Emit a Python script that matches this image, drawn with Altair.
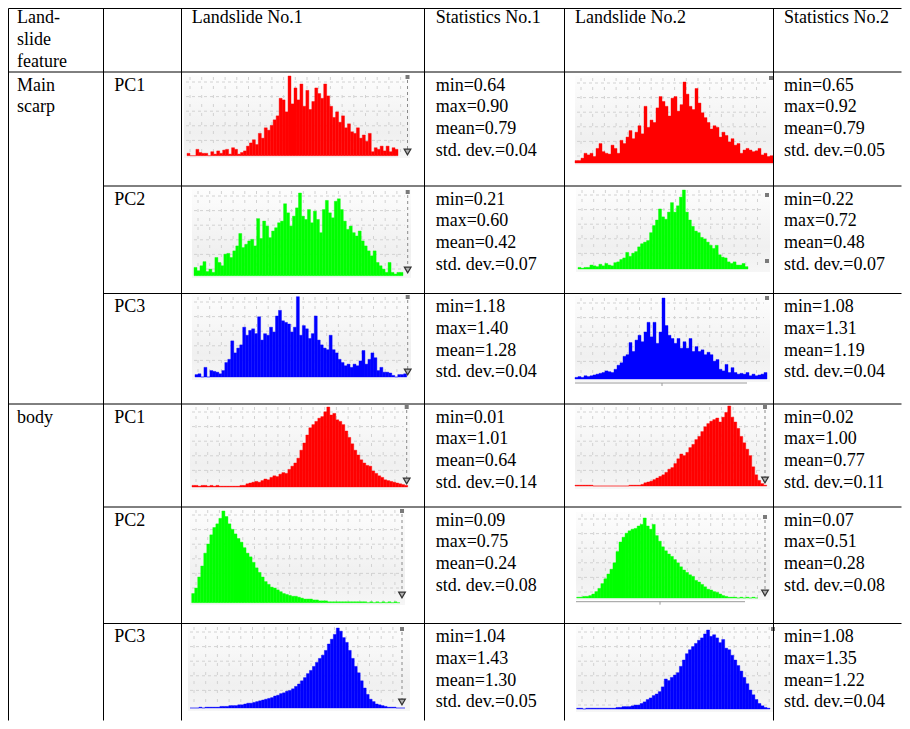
import altair as alt
import pandas as pd
import numpy as np

# ---------------- data ----------------
col_headers = ["Landslide No.1", "Statistics No.1", "Landslide No.2", "Statistics No.2"]
feature_header = ["Land-", "slide", "feature"]
features = [["Main", "scarp"], ["body"]]
components = ["PC1", "PC2", "PC3", "PC1", "PC2", "PC3"]

# statistics per row (Main scarp PC1..PC3, body PC1..PC3)
stat_min_1 = ["0.64", "0.21", "1.18", "0.01", "0.09", "1.04"]
stat_max_1 = ["0.90", "0.60", "1.40", "1.01", "0.75", "1.43"]
stat_mean_1 = ["0.79", "0.42", "1.28", "0.64", "0.24", "1.30"]
stat_std_1 = ["0.04", "0.07", "0.04", "0.14", "0.08", "0.05"]
stat_min_2 = ["0.65", "0.22", "1.08", "0.02", "0.07", "1.08"]
stat_max_2 = ["0.92", "0.72", "1.31", "1.00", "0.51", "1.35"]
stat_mean_2 = ["0.79", "0.48", "1.19", "0.77", "0.28", "1.22"]
stat_std_2 = ["0.05", "0.07", "0.04", "0.11", "0.08", "0.04"]

# histogram bar heights (percent of panel peak)
hist_ms_pc1_l1 = [3, 0, 0, 8, 4, 3, 3, 0, 5, 2, 6, 3, 7, 8, 2, 10, 8, 2, 4, 6,
                  12, 16, 20, 14, 28, 22, 35, 32, 38, 45, 50, 72, 70, 55, 100, 65, 85, 70, 90, 62,
                  82, 58, 68, 85, 78, 72, 90, 75, 62, 48, 55, 42, 50, 35, 40, 30, 28, 35, 22, 26,
                  18, 28, 5, 10, 8, 12, 6, 12, 5, 10, 8]
hist_ms_pc1_l2 = [3, 3, 6, 12, 10, 12, 8, 18, 24, 14, 12, 11, 22, 18, 12, 28, 24, 32, 40, 30,
                  38, 46, 36, 70, 44, 53, 50, 68, 82, 76, 70, 58, 80, 82, 64, 72, 100, 85, 70, 66,
                  92, 74, 62, 56, 50, 42, 46, 44, 32, 38, 34, 26, 30, 22, 24, 12, 16, 18, 16, 14,
                  15, 18, 10, 12, 8, 9]
hist_ms_pc2_l1 = [10, 6, 12, 17, 5, 8, 4, 22, 16, 12, 26, 27, 22, 30, 36, 51, 34, 38, 42, 44,
                  36, 69, 45, 66, 60, 46, 54, 58, 64, 66, 87, 76, 60, 72, 82, 100, 72, 68, 80, 64,
                  78, 68, 52, 80, 91, 76, 70, 90, 93, 80, 66, 56, 60, 52, 48, 54, 42, 36, 30, 24,
                  30, 16, 12, 8, 4, 16, 4, 2, 4, 4]
hist_ms_pc2_l2 = [2, 1, 2, 2, 5, 4, 3, 6, 4, 7, 5, 4, 8, 9, 12, 14, 21, 16, 20, 22,
                  28, 32, 34, 36, 46, 55, 62, 76, 66, 63, 72, 84, 72, 80, 91, 100, 72, 62, 54, 48,
                  46, 40, 38, 34, 30, 26, 30, 18, 15, 14, 9, 7, 9, 5, 5, 7, 3]
hist_ms_pc3_l1 = [3, 4, 0, 12, 0, 8, 7, 6, 4, 8, 18, 22, 45, 30, 36, 40, 62, 52, 58, 60,
                  54, 75, 46, 54, 52, 62, 56, 76, 83, 70, 68, 66, 56, 62, 100, 52, 64, 60, 48, 54,
                  76, 46, 40, 36, 34, 52, 34, 30, 22, 18, 14, 16, 12, 16, 14, 20, 33, 16, 22, 30,
                  24, 8, 12, 6, 6, 5, 2, 0, 3, 3, 4]
hist_ms_pc3_l2 = [2, 3, 2, 4, 3, 4, 5, 6, 7, 8, 10, 9, 8, 12, 17, 20, 28, 30, 45, 34,
                  48, 54, 46, 58, 70, 52, 70, 44, 58, 100, 66, 54, 50, 44, 50, 38, 46, 38, 50, 34,
                  40, 34, 36, 30, 33, 30, 22, 24, 12, 10, 18, 8, 14, 8, 6, 7, 6, 8, 4, 6,
                  4, 5, 6, 8]
hist_body_pc1_l1 = [2, 2, 1, 2, 2, 1, 2, 1, 2, 1, 1, 1, 1, 1, 1, 1, 2, 2, 4, 5,
                    6, 7, 6, 8, 10, 9, 12, 14, 13, 16, 18, 17, 22, 26, 30, 36, 46, 55, 65, 74,
                    78, 82, 86, 88, 94, 100, 90, 92, 84, 82, 78, 70, 62, 54, 46, 40, 34, 30, 27, 26,
                    20, 17, 14, 12, 9, 8, 7, 6, 5, 4, 3, 2]
hist_body_pc1_l2 = [1, 1, 1, 1, 1, 1, 0, 0, 0, 0, 0, 0, 0, 0, 0, 0, 0, 0, 1, 1,
                    1, 1, 2, 4, 5, 6, 8, 10, 12, 14, 17, 21, 23, 28, 34, 40, 38, 42, 48, 52,
                    58, 62, 68, 74, 78, 81, 83, 85, 80, 86, 92, 100, 86, 80, 72, 62, 54, 46, 38, 24,
                    14, 7, 3, 1]
hist_body_pc2_l1 = [10, 16, 28, 40, 54, 64, 74, 82, 86, 92, 100, 94, 86, 80, 75, 70, 66, 60, 54, 50,
                    44, 38, 33, 28, 23, 20, 17, 16, 14, 12, 10, 9, 8, 7, 7, 6, 5, 4, 4, 4,
                    3, 3, 2, 2, 2, 1, 1, 1, 1, 1, 1, 1, 1, 1, 1, 1, 1, 1, 0, 1,
                    0, 1, 0, 1, 0, 1, 0, 1, 0]
hist_body_pc2_l2 = [1, 1, 2, 2, 3, 5, 8, 12, 18, 24, 30, 36, 44, 58, 70, 76, 81, 84, 86, 87,
                    90, 92, 100, 90, 86, 92, 78, 71, 64, 59, 55, 52, 48, 44, 39, 35, 32, 29, 27, 22,
                    20, 17, 14, 11, 10, 8, 7, 5, 3, 2, 1, 1, 1, 0, 1, 0, 1, 0, 1, 0]
hist_body_pc3_l1 = [0, 0, 0, 1, 0, 1, 1, 1, 1, 1, 2, 2, 2, 3, 3, 3, 4, 4, 5, 6,
                    6, 7, 8, 9, 10, 11, 12, 13, 15, 16, 18, 19, 21, 22, 24, 27, 30, 34, 38, 43,
                    47, 52, 57, 62, 66, 72, 80, 86, 92, 100, 96, 88, 82, 72, 62, 52, 44, 34, 25, 17,
                    11, 8, 5, 4, 3, 2, 1, 1, 1, 0, 0, 0]
hist_body_pc3_l2 = [1, 1, 0, 1, 1, 1, 1, 1, 1, 1, 1, 1, 1, 2, 2, 3, 3, 3, 4, 5,
                    5, 7, 9, 12, 14, 17, 19, 22, 28, 38, 36, 40, 43, 46, 54, 62, 70, 75, 79, 83,
                    87, 90, 95, 100, 92, 94, 90, 84, 88, 77, 75, 68, 62, 55, 48, 40, 32, 24, 18, 12,
                    7, 4, 2, 1]

hists = [hist_ms_pc1_l1, hist_ms_pc1_l2, hist_ms_pc2_l1, hist_ms_pc2_l2,
         hist_ms_pc3_l1, hist_ms_pc3_l2, hist_body_pc1_l1, hist_body_pc1_l2,
         hist_body_pc2_l1, hist_body_pc2_l2, hist_body_pc3_l1, hist_body_pc3_l2]
hist_colors = ["#ff0000", "#ff0000", "#00ff00", "#00ff00", "#0000ff", "#0000ff",
               "#ff0000", "#ff0000", "#00ff00", "#00ff00", "#0000ff", "#0000ff"]

# ---------------- layout (reference pixel coordinates) ----------------
# canvas fits inside the 910x729 window with its 8px page margin
W, H, OFF = 894, 713, 8
FONT = "Liberation Serif"
FS = 18
LH = 21.7

col_x = [5, 103.5, 181.5, 424.5, 564.5, 773.5]
row_y = [5, 72, 186, 293.5, 404, 507, 623.5]

# panel: bars x0, x1, baseline, peak ; background box ; marker x, square y, triangle y ; axis
panels = [
    dict(b=(187, 398, 155.7, 76), bg=(184, 410, 75, 158), mk=(407.5, 77, 152)),
    dict(b=(575, 773, 163, 82), bg=(575, 773, 76, 165), mk=(771, 78, None)),
    dict(b=(194, 403, 275.7, 193), bg=(192, 411, 189, 278), mk=(407.7, 192, 270)),
    dict(b=(578, 748, 269, 190), bg=(576, 770, 188, 272), mk=(767, 195, None), sq2=261),
    dict(b=(195, 406.7, 377, 296.7), bg=(192, 411, 295, 380), mk=(407.7, 297, 372)),
    dict(b=(575, 767, 379, 298), bg=(575, 770, 296, 382), mk=(767, 298, None), ax=(575, 747, 383, 662)),
    dict(b=(192, 407.7, 487, 407), bg=(190, 410, 405, 490), mk=(406.7, 407, 481)),
    dict(b=(575, 766.7, 486, 406), bg=(575, 770, 405, 489), mk=(765, 407, 480)),
    dict(b=(191.7, 400, 602.7, 511), bg=(190, 405, 508, 605), mk=(402, 511, 595)),
    dict(b=(576.7, 758, 598, 518), bg=(576, 770, 512, 600), mk=(765, 517, 593), ax=(576, 745, 601.7, 660)),
    dict(b=(190, 405, 708, 628), bg=(188, 410, 625, 711), mk=(402, 629, 702)),
    dict(b=(576.7, 770, 709, 630), bg=(576, 773, 625, 712), mk=(773, 629, None)),
]

PX = alt.Scale(domain=[OFF, OFF + W], range=[0, W], nice=False, zero=False)
PY = alt.Scale(domain=[OFF, OFF + H], range=[0, H], nice=False, zero=False)


def page_enc(with2=True):
    enc = dict(x=alt.X("x:Q", scale=PX, axis=None), y=alt.Y("y:Q", scale=PY, axis=None))
    if with2:
        enc["x2"] = alt.X2("x2:Q")
        enc["y2"] = alt.Y2("y2:Q")
    return enc


def clip_df(rows):
    df = pd.DataFrame(rows)
    for c in ["x", "x2"]:
        if c in df:
            df[c] = df[c].clip(lower=OFF + 0.5, upper=OFF + W - 0.5)
    for c in ["y", "y2"]:
        if c in df:
            df[c] = df[c].clip(lower=OFF + 0.5, upper=OFF + H - 0.5)
    return df


layers = []

# panel backgrounds
bg_rows = [dict(x=p["bg"][0], x2=p["bg"][1], y=p["bg"][2], y2=p["bg"][3]) for p in panels]
grad = alt.LinearGradient(gradient="linear", x1=0, x2=0, y1=0, y2=1,
                          stops=[alt.GradientStop(color="#fdfdfd", offset=0),
                                 alt.GradientStop(color="#f0f0f0", offset=0.7),
                                 alt.GradientStop(color="#f6f6f6", offset=1)])
layers.append(alt.Chart(clip_df(bg_rows)).mark_rect(fill=grad).encode(**page_enc()))

# dashed grid inside panels
hgrid, vgrid = [], []
for p in panels:
    bx0, bx1, by0, by1 = p["bg"]
    base = p["b"][2]
    right = p["mk"][0] - 3
    for gy in np.arange(by0 + 7, base - 3, 14.6):
        hgrid.append(dict(x=bx0 + 2, x2=right, y=gy, y2=gy))
    for gx in np.arange(bx0 + 6, right, 11.7):
        vgrid.append(dict(x=gx, x2=gx, y=by0 + 2, y2=base))
for rows, dash in ((hgrid, [3, 3]), (vgrid, [3, 6])):
    layers.append(alt.Chart(clip_df(rows)).mark_rule(
        color="#d2d2d2", strokeWidth=1, strokeDash=dash).encode(**page_enc()))

# histograms, each with its own scales
for p, vals, colr in zip(panels, hists, hist_colors):
    x0, x1, base, peak = p["b"]
    n = len(vals)
    df = pd.DataFrame({"b": np.arange(n), "b2": np.arange(n) + 1, "h": vals, "z": 0})
    layers.append(alt.Chart(df).mark_rect(color=colr, stroke=colr, strokeWidth=0.4).encode(
        x=alt.X("b:Q", axis=None,
                scale=alt.Scale(domain=[0, n], range=[x0 - OFF, x1 - OFF], nice=False, zero=False)),
        x2="b2:Q",
        y=alt.Y("h:Q", axis=None,
                scale=alt.Scale(domain=[0, 100], range=[base - OFF, peak - OFF], nice=False, zero=False)),
        y2="z:Q"))

# markers: dashed line, squares, triangles, axis lines
mk_lines, squares, tris, axes = [], [], [], []
for p in panels:
    mx, sy, ty = p["mk"]
    squares.append(dict(x=mx - 2, x2=mx + 2, y=sy - 2, y2=sy + 2))
    if "sq2" in p:
        squares.append(dict(x=mx - 2, x2=mx + 2, y=p["sq2"] - 2, y2=p["sq2"] + 2))
    if ty is not None:
        mk_lines.append(dict(x=mx, x2=mx, y=sy + 3, y2=ty - 3))
        tris.append(dict(x=mx, y=ty))
    if "ax" in p:
        ax0, ax1, ay, tx = p["ax"]
        axes.append(dict(x=ax0, x2=ax1, y=ay, y2=ay))
        axes.append(dict(x=tx, x2=tx, y=ay, y2=ay + 3))
layers.append(alt.Chart(clip_df(mk_lines)).mark_rule(
    color="#8a8a8a", strokeWidth=1, strokeDash=[3, 3]).encode(**page_enc()))
layers.append(alt.Chart(clip_df(axes)).mark_rule(color="#9a9a9a", strokeWidth=1).encode(**page_enc()))
layers.append(alt.Chart(clip_df(squares)).mark_rect(color="#7a7a7a").encode(**page_enc()))
layers.append(alt.Chart(pd.DataFrame(tris)).mark_point(
    shape="triangle-down", filled=True, fill="#b0b0b0", stroke="#333333", strokeWidth=1.2,
    size=45, opacity=1).encode(**page_enc(False)))

# table lines
lines = []
for cx in col_x:
    lines.append(dict(x=cx, x2=cx, y=row_y[0], y2=729))
for i, ry in enumerate(row_y):
    start = col_x[0] if i in (0, 1, 4) else col_x[1]
    lines.append(dict(x=start, x2=910, y=ry, y2=ry))
layers.append(alt.Chart(clip_df(lines)).mark_rule(color="black", strokeWidth=1).encode(**page_enc()))

# texts
texts = []
for k, t in enumerate(feature_header):
    texts.append(dict(x=17, y=23.3 + k * LH, t=t))
for t, hx in zip(col_headers, [191.7, 435.7, 575, 784]):
    texts.append(dict(x=hx, y=23.3, t=t))
row_base = [ry + 18.7 for ry in row_y[1:]]
for k, t in enumerate(features[0]):
    texts.append(dict(x=17, y=row_base[0] + k * LH, t=t))
for k, t in enumerate(features[1]):
    texts.append(dict(x=17, y=row_base[3] + k * LH, t=t))
for r in range(6):
    texts.append(dict(x=114.3, y=row_base[r], t=components[r]))
    for sx, mn, mx_, me, sd in ((435.7, stat_min_1, stat_max_1, stat_mean_1, stat_std_1),
                                (784, stat_min_2, stat_max_2, stat_mean_2, stat_std_2)):
        for k, t in enumerate([f"min={mn[r]}", f"max={mx_[r]}", f"mean={me[r]}", f"std. dev.={sd[r]}"]):
            texts.append(dict(x=sx, y=row_base[r] + k * LH, t=t))
layers.append(alt.Chart(pd.DataFrame(texts)).mark_text(
    align="left", baseline="alphabetic", font=FONT, fontSize=FS, color="black").encode(
    x=alt.X("x:Q", scale=PX, axis=None), y=alt.Y("y:Q", scale=PY, axis=None), text="t:N"))

chart = alt.layer(*layers).resolve_scale(x="independent", y="independent").properties(
    width=W, height=H, padding=0, autosize=alt.AutoSizeParams(type="none"),
    background="white").configure_view(stroke=None)

chart.save("out.html", embed_options={"renderer": "svg", "actions": False})
